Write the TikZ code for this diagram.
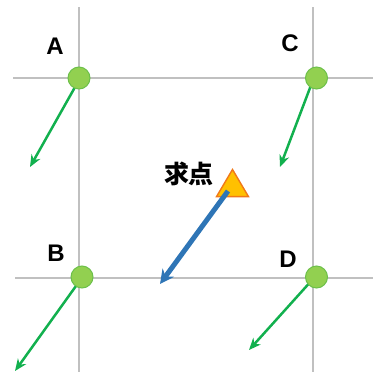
\documentclass[tikz,border=0pt]{standalone}
\usepackage{fontspec}
\setmainfont{Liberation Sans}
\newfontfamily\cjk{Noto Sans CJK SC}
\usetikzlibrary{arrows.meta,shapes.geometric}
\definecolor{gridgray}{HTML}{C0C0C0}
\definecolor{ptfill}{HTML}{92D050}
\definecolor{ptdraw}{HTML}{6CC04A}
\definecolor{arrgreen}{HTML}{12B04E}
\definecolor{arrblue}{HTML}{2E75B6}
\definecolor{trifill}{HTML}{FFC000}
\definecolor{tridraw}{HTML}{F07818}
\tikzset{
  gridline/.style={draw=gridgray, line width=2pt},
  pt/.style={circle, fill=ptfill, draw=ptdraw, line width=1pt, minimum size=22pt, inner sep=0pt},
  garrow/.style={draw=arrgreen, line width=2.5pt, -{Stealth[length=12pt,width=10pt]}},
  barrow/.style={draw=arrblue, line width=5pt, -{Stealth[length=14pt,width=14pt]}},
  lbl/.style={font=\bfseries\fontsize{24}{24}\selectfont, inner sep=0pt},
  cjklbl/.style={font=\cjk\bfseries\fontsize{25}{25}\selectfont, inner sep=0pt},
}
\begin{document}
\begin{tikzpicture}[x=1pt,y=-1pt]
\useasboundingbox (0,0) rectangle (373,373);
% grid
\draw[gridline] (79,7) -- (79,372);
\draw[gridline] (313,7) -- (313,372);
\draw[gridline] (13,78) -- (373,78);
\draw[gridline] (15,278) -- (373,278);
% free ends
\coordinate (ea) at (30,167);
\coordinate (ec) at (280,167);
\coordinate (eb) at (15,371);
\coordinate (ed) at (249,350);
\coordinate (eq) at (160,284);
% arrows
\draw[garrow] (79,80) -- (ea);
\draw[garrow] (313,80) -- (ec);
\draw[garrow] (81,279) -- (eb);
\draw[garrow] (313,279) -- (ed);
% points
\node[pt] (A) at (79,78) {};
\node[pt] (C) at (316.5,78) {};
\node[pt] (B) at (82,277) {};
\node[pt] (D) at (316.5,277) {};
% triangle
\node[isosceles triangle, isosceles triangle apex angle=61, shape border rotate=90, fill=trifill, draw=tridraw, line width=1.4pt, minimum width=32pt, inner sep=0pt] (Q) at (232.5,187.5) {};
\draw[barrow] (228,191) -- (eq);
% labels
\node[lbl] (la) at (55,46) {A};
\node[lbl] (lc) at (290,43) {C};
\node[lbl] (lb) at (56,253) {B};
\node[lbl] (ld) at (288,259) {D};
\node[cjklbl] (lq) at (189,174) {求点};
\end{tikzpicture}
\end{document}
